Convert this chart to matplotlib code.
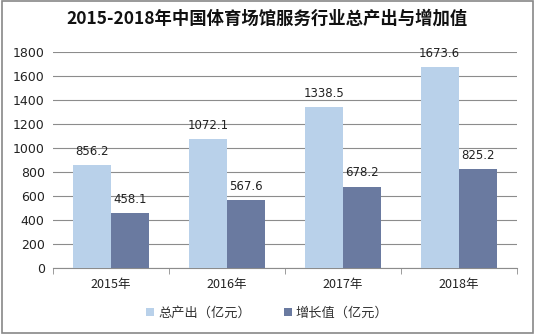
import matplotlib
matplotlib.use("Agg")
import matplotlib.pyplot as plt
import numpy as np
from matplotlib.patches import Rectangle

plt.rcParams['font.family'] = ['Noto Sans CJK SC', 'DejaVu Sans']

years = ['2015年', '2016年', '2017年', '2018年']
output_vals = [856.2, 1072.1, 1338.5, 1673.6]
added_vals = [458.1, 567.6, 678.2, 825.2]
series_names = ['总产出（亿元）', '增长值（亿元）']
colors = ['#B9D1EA', '#6A7AA0']

fig = plt.figure(figsize=(5.35, 3.34), dpi=100)
ax = fig.add_axes([0.099, 0.198, 0.867, 0.646])

x = np.arange(len(years))
w = 0.33
b1 = ax.bar(x - w/2, output_vals, w, color=colors[0], label=series_names[0], zorder=3)
b2 = ax.bar(x + w/2, added_vals, w, color=colors[1], label=series_names[1], zorder=3)
for bars, vals in ((b1, output_vals), (b2, added_vals)):
    for r, v in zip(bars, vals):
        ax.text(r.get_x() + r.get_width()/2, v + 60, f'{v:.1f}', ha='center', va='bottom',
                fontsize=8.5, color='#222222', family=['DejaVu Sans'])

ax.set_ylim(0, 1800)
ax.set_xlim(-0.5, 3.5)
ax.set_yticks(range(0, 1801, 200))
ax.yaxis.grid(True, color='#8c8c8c', linewidth=0.8, zorder=0)
ax.set_xticks(x)
ax.set_xticklabels(years, fontsize=9, color='#222222')
ax.set_xticks(np.arange(-0.5, 4, 1), minor=True)
ax.tick_params(axis='x', which='major', length=0, pad=7)
ax.tick_params(axis='x', which='minor', length=4, color='#8c8c8c')
ax.tick_params(axis='y', length=0, labelsize=9, labelcolor='#222222', pad=6)
for lbl in ax.get_yticklabels():
    lbl.set_family(['DejaVu Sans'])
for s in ['top', 'right', 'left']:
    ax.spines[s].set_visible(False)
ax.spines['bottom'].set_color('#8c8c8c')

fig.text(0.5, 0.945, '2015-2018年中国体育场馆服务行业总产出与增加值', ha='center', va='center',
         fontsize=12.5, fontweight='bold', color='#111111')

leg = fig.legend(handles=[b1, b2], loc='center', bbox_to_anchor=(0.5, 0.062), ncol=2,
                 frameon=False, fontsize=9.5, handlelength=0.6, handleheight=0.6,
                 handletextpad=0.3, columnspacing=2.5)
for t in leg.get_texts():
    t.set_color('#333333')

fig.patches.append(Rectangle((0.003, 0.003), 0.994, 0.994, transform=fig.transFigure,
                             fill=False, edgecolor='#888888', linewidth=1.2))

fig.savefig('out.png', dpi=100)
